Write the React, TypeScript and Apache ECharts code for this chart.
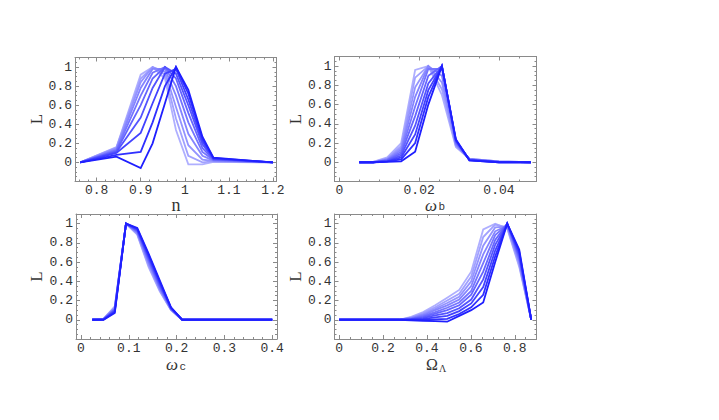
import React, { useEffect, useRef } from "react";
import * as echarts from "echarts";

// ---- data ----
// line order: index 0 = darkest, last = lightest
const nValues = [0.763, 0.845, 0.9, 0.927, 0.955, 0.98, 1.008, 1.04, 1.065, 1.2];
const nLikelihoods = [
  [0, 0.06, -0.06, 0.2, 0.62, 1.0, 0.76, 0.27, 0.05, 0],
  [0, 0.08, 0.11, 0.42, 0.8, 1.0, 0.72, 0.25, 0.045, 0],
  [0, 0.1, 0.31, 0.62, 0.93, 0.98, 0.66, 0.22, 0.04, 0],
  [0, 0.11, 0.47, 0.78, 1.0, 0.93, 0.6, 0.19, 0.035, 0],
  [0, 0.12, 0.6, 0.88, 1.0, 0.88, 0.52, 0.15, 0.03, 0],
  [0, 0.13, 0.7, 0.94, 1.0, 0.8, 0.42, 0.11, 0.025, 0],
  [0, 0.14, 0.78, 0.98, 0.98, 0.7, 0.3, 0.07, 0.02, 0],
  [0, 0.15, 0.84, 1.0, 0.95, 0.58, 0.18, 0.03, 0.015, 0],
  [0, 0.155, 0.88, 1.0, 0.92, 0.46, 0.07, 0.0, 0.01, 0],
  [0, 0.16, 0.92, 1.0, 0.88, 0.34, -0.02, -0.02, 0.005, 0],
];

const omegaBValues = [0.005, 0.0085, 0.012, 0.0155, 0.019, 0.0223, 0.0257, 0.0292, 0.0326, 0.04, 0.048];
const omegaBLikelihoods = [
  [0, 0, 0.005, 0.01, 0.11, 0.6, 1.0, 0.24, 0.02, 0, 0],
  [0, 0, 0.01, 0.03, 0.2, 0.68, 1.0, 0.23, 0.02, 0, 0],
  [0, 0, 0.01, 0.05, 0.29, 0.75, 1.0, 0.23, 0.025, 0, 0],
  [0, 0, 0.015, 0.07, 0.38, 0.82, 1.0, 0.22, 0.025, 0.005, 0],
  [0, 0, 0.02, 0.09, 0.48, 0.9, 1.0, 0.21, 0.03, 0.005, 0],
  [0, 0, 0.025, 0.11, 0.58, 0.97, 0.97, 0.2, 0.03, 0.005, 0],
  [0, 0, 0.03, 0.13, 0.68, 1.0, 0.9, 0.19, 0.03, 0.005, 0],
  [0, 0, 0.035, 0.15, 0.78, 1.0, 0.83, 0.18, 0.035, 0.01, 0],
  [0, 0.005, 0.04, 0.17, 0.88, 1.0, 0.76, 0.17, 0.035, 0.01, 0],
  [0, 0.005, 0.05, 0.2, 0.96, 1.0, 0.7, 0.16, 0.035, 0.01, 0],
];

const omegaCValues = [0.0235, 0.0471, 0.0706, 0.0941, 0.1176, 0.1412, 0.1647, 0.1882, 0.2118, 0.4];
const omegaCLikelihoods = [
  [0, 0, 0.07, 1, 0.955, 0.69, 0.41, 0.13, 0, 0],
  [0, 0.002, 0.08, 1, 0.948, 0.675, 0.395, 0.126, 0, 0],
  [0, 0.003, 0.09, 1, 0.94, 0.66, 0.38, 0.122, 0, 0],
  [0, 0.004, 0.1, 1, 0.932, 0.645, 0.365, 0.118, 0, 0],
  [0, 0.005, 0.105, 1, 0.924, 0.63, 0.35, 0.115, 0, 0],
  [0, 0.006, 0.11, 1, 0.916, 0.612, 0.338, 0.112, 0, 0],
  [0, 0.007, 0.118, 1, 0.908, 0.598, 0.326, 0.109, 0, 0],
  [0, 0.008, 0.125, 1, 0.9, 0.58, 0.314, 0.106, 0, 0],
  [0, 0.009, 0.132, 1, 0.892, 0.565, 0.305, 0.103, 0, 0],
  [0, 0.01, 0.14, 1, 0.885, 0.55, 0.295, 0.1, 0, 0],
];

const omegaLambdaValues = [0, 0.2734, 0.3281, 0.3828, 0.4375, 0.4922, 0.5469, 0.6016, 0.6563, 0.7109, 0.7656, 0.8203, 0.875];
const omegaLambdaLikelihoods = [
  [0, 0, -0.005, -0.01, -0.015, -0.02, 0.04, 0.1, 0.18, 0.6, 1, 0.73, 0],
  [0, 0, 0, 0, 0.005, 0.01, 0.06, 0.13, 0.26, 0.66, 1, 0.71, 0],
  [0, 0, 0.003, 0.01, 0.025, 0.04, 0.09, 0.17, 0.34, 0.72, 1, 0.69, 0],
  [0, 0, 0.006, 0.02, 0.045, 0.07, 0.12, 0.21, 0.42, 0.78, 1, 0.67, 0],
  [0, 0, 0.01, 0.03, 0.065, 0.1, 0.15, 0.26, 0.5, 0.83, 1, 0.65, 0],
  [0, 0, 0.013, 0.04, 0.08, 0.125, 0.18, 0.3, 0.59, 0.88, 0.99, 0.63, 0],
  [0, 0, 0.017, 0.05, 0.1, 0.15, 0.21, 0.35, 0.68, 0.92, 0.98, 0.61, 0],
  [0, 0, 0.021, 0.06, 0.115, 0.175, 0.24, 0.4, 0.77, 0.96, 0.97, 0.59, 0],
  [0, 0, 0.025, 0.07, 0.13, 0.2, 0.27, 0.45, 0.86, 0.99, 0.96, 0.57, 0],
  [0, 0, 0.03, 0.08, 0.15, 0.23, 0.31, 0.5, 0.94, 1.0, 0.95, 0.55, 0],
];

// tick labels
const yTickValues = [0, 0.2, 0.4, 0.6, 0.8, 1];
const yTickLabels = ["0", "0.2", "0.4", "0.6", "0.8", "1"];
const nTickValues = [0.8, 0.9, 1, 1.1, 1.2];
const nTickLabels = ["0.8", "0.9", "1", "1.1", "1.2"];
const omegaBTickValues = [0, 0.02, 0.04];
const omegaBTickLabels = ["0", "0.02", "0.04"];
const omegaCTickValues = [0, 0.1, 0.2, 0.3, 0.4];
const omegaCTickLabels = ["0", "0.1", "0.2", "0.3", "0.4"];
const omegaLambdaTickValues = [0, 0.2, 0.4, 0.6, 0.8];
const omegaLambdaTickLabels = ["0", "0.2", "0.4", "0.6", "0.8"];

// dark -> light
const lineColors = [
  "#1f1fff", "#3030ff", "#4242ff", "#5454ff", "#6565ff",
  "#7575ff", "#8484ff", "#9393ff", "#a1a1ff", "#afafff",
];

const FRAME = "#8a8a8a";
const LABEL = "#333333";
const MONO = "'Liberation Mono', 'DejaVu Sans Mono', monospace";
const SERIF = "'Liberation Serif', 'DejaVu Serif', serif";

function labelFormatter(values: number[], labels: string[]) {
  return (v: number) => {
    for (let i = 0; i < values.length; i++) {
      if (Math.abs(v - values[i]) < 1e-7) return labels[i];
    }
    return "";
  };
}

const panels = [
  {
    xs: nValues, ls: nLikelihoods, xMin: 0.751, xMax: 1.208, split: 5, minor: 5,
    tv: nTickValues, tl: nTickLabels,
    grid: { left: 75, top: 57.5, width: 201.5, height: 124 },
  },
  {
    xs: omegaBValues, ls: omegaBLikelihoods, xMin: -0.0012, xMax: 0.0494, split: 3, minor: 4,
    tv: omegaBTickValues, tl: omegaBTickLabels,
    grid: { left: 334.5, top: 56.5, width: 202, height: 125 },
  },
  {
    xs: omegaCValues, ls: omegaCLikelihoods, xMin: -0.0105, xMax: 0.41, split: 5, minor: 5,
    tv: omegaCTickValues, tl: omegaCTickLabels,
    grid: { left: 76, top: 214, width: 201, height: 125 },
  },
  {
    xs: omegaLambdaValues, ls: omegaLambdaLikelihoods, xMin: -0.021, xMax: 0.899, split: 5, minor: 4,
    tv: omegaLambdaTickValues, tl: omegaLambdaTickLabels,
    grid: { left: 334.5, top: 214, width: 202, height: 125 },
  },
];

export default function App() {
  const ref = useRef<HTMLDivElement>(null);

  useEffect(() => {
    if (!ref.current) return;
    const chart = echarts.init(ref.current, null, { renderer: "svg" });

    const grids: any[] = [];
    const xAxes: any[] = [];
    const yAxes: any[] = [];
    const series: any[] = [];

    const lineStyle = { color: FRAME, width: 1 };

    panels.forEach((p, pi) => {
      grids.push({ ...p.grid, containLabel: false });
      const xBase = {
        type: "value",
        gridIndex: pi,
        min: p.xMin,
        max: p.xMax,
        splitNumber: p.split,
        splitLine: { show: false },
        axisLine: { show: true, onZero: false, lineStyle },
        axisTick: { show: true, inside: true, length: 4, lineStyle },
        minorTick: { show: true, splitNumber: p.minor, length: 2, lineStyle },
      };
      xAxes.push({
        ...xBase,
        position: "bottom",
        axisLabel: {
          show: true,
          margin: 3,
          fontFamily: MONO,
          fontSize: 13,
          lineHeight: 12,
          color: LABEL,
          showMinLabel: true,
          showMaxLabel: true,
          hideOverlap: false,
          formatter: labelFormatter(p.tv, p.tl),
        },
      });
      xAxes.push({ ...xBase, position: "top", axisLabel: { show: false } });

      const yBase = {
        type: "value",
        gridIndex: pi,
        min: -0.2,
        max: 1.1,
        interval: 0.2,
        splitLine: { show: false },
        axisLine: { show: true, onZero: false, lineStyle },
        axisTick: { show: true, inside: true, length: 4, lineStyle },
        minorTick: { show: true, splitNumber: 4, length: 2, lineStyle },
      };
      yAxes.push({
        ...yBase,
        position: "left",
        axisLabel: {
          show: true,
          margin: 3,
          fontFamily: MONO,
          fontSize: 13,
          color: LABEL,
          showMinLabel: true,
          showMaxLabel: true,
          formatter: labelFormatter(yTickValues, yTickLabels),
        },
      });
      yAxes.push({ ...yBase, position: "right", axisLabel: { show: false } });

      for (let i = p.ls.length - 1; i >= 0; i--) {
        series.push({
          type: "line",
          xAxisIndex: pi * 2,
          yAxisIndex: pi * 2,
          data: p.xs.map((x, j) => [x, p.ls[i][j]]),
          symbol: "none",
          showSymbol: false,
          silent: true,
          lineStyle: { color: lineColors[i], width: 1.8, join: "miter" },
        });
      }
    });

    const yName = (x: number, y: number) => ({
      type: "text",
      x,
      y,
      rotation: Math.PI / 2,
      style: {
        text: "L",
        fontFamily: SERIF,
        fontSize: 17,
        fill: LABEL,
        align: "center",
        verticalAlign: "middle",
      },
    });

    const txt = (
      x: number,
      y: number,
      text: string,
      font: string,
      size: number,
      italic = false,
      align = "center"
    ) => ({
      type: "text",
      x,
      y,
      style: {
        text,
        fontFamily: font,
        fontSize: size,
        lineHeight: Math.round(size * 0.8),
        fontStyle: italic ? "italic" : "normal",
        fill: LABEL,
        align,
        verticalAlign: "middle",
      },
    });

    chart.setOption({
      animation: false,
      backgroundColor: "#ffffff",
      grid: grids,
      xAxis: xAxes,
      yAxis: yAxes,
      series,
      graphic: [
        yName(36.5, 119),
        yName(295, 119),
        yName(36.5, 276.5),
        yName(295, 276.5),
        txt(176, 204.5, "n", SERIF, 18),
        txt(437, 205.5, "ω", SERIF, 17, true, "right"),
        txt(438.5, 207, "b", MONO, 11, false, "left"),
        txt(178, 364, "ω", SERIF, 17, true, "right"),
        txt(179.5, 366.5, "c", MONO, 11, false, "left"),
        txt(438, 364, "Ω", SERIF, 16, false, "right"),
        txt(439, 368, "Λ", SERIF, 10, false, "left"),
      ],
    });

    return () => chart.dispose();
  }, []);

  return (
    <div
      ref={ref}
      style={{ position: "absolute", left: 0, top: 0, width: 719, height: 420, background: "#fff" }}
    />
  );
}
